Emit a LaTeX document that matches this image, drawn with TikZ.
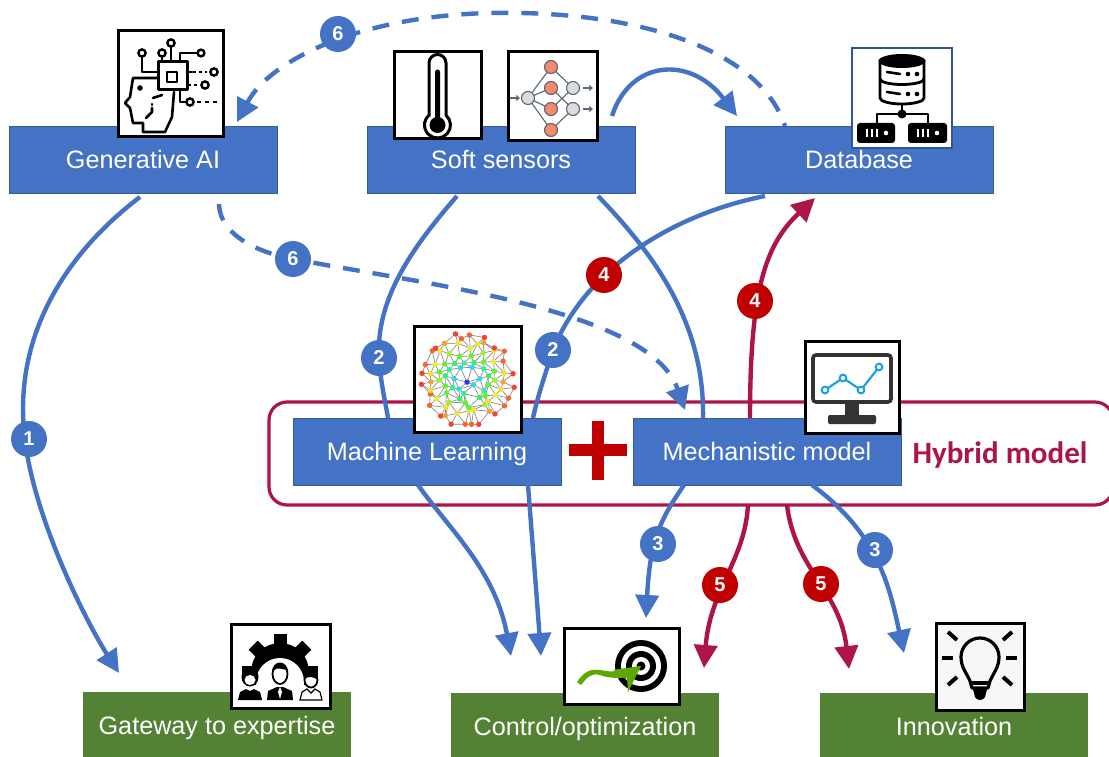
\documentclass[tikz,border=0pt]{standalone}
\usepackage{fontspec}
\setmainfont{Liberation Sans}
\newfontfamily\hybridfont{Carlito}
\usetikzlibrary{arrows.meta}
\definecolor{bluebox}{HTML}{4472C4}
\definecolor{greenbox}{HTML}{548235}
\definecolor{crimsonline}{HTML}{AD1547}
\definecolor{redbadge}{HTML}{C00000}
\definecolor{darkmon}{HTML}{333333}
\definecolor{chartblue}{HTML}{1CA0E0}
\definecolor{nnorange}{HTML}{F4896B}
\definecolor{nngray}{HTML}{DCDCDC}
\definecolor{nnline}{HTML}{5A6672}
\definecolor{arrowgreen}{HTML}{5AA800}
\definecolor{dbframe}{HTML}{2F5597}
\tikzset{
  boxbase/.style={minimum width=268pt,minimum height=67pt,inner sep=0pt,outer sep=0pt,text=white,text height=20pt,text depth=3pt,font=\fontsize{25.2}{27}\selectfont},
  bluenode/.style={boxbase,fill=bluebox,draw=bluebox!80!black,line width=.6pt},
  greennode/.style={boxbase,fill=greenbox},
  bluelink/.style={draw=bluebox,line width=4.4pt},
  redlink/.style={draw=crimsonline,line width=4.4pt},
  dashlink/.style={draw=bluebox,line width=4.4pt,dash pattern=on 17pt off 13pt},
  headb/.style={-{Triangle[length=23pt,width=23pt]}},
  badge/.style={circle,minimum size=36pt,inner sep=0pt,text=white,font=\fontsize{20}{21}\bfseries\selectfont},
  bluebadge/.style={badge,fill=bluebox},
  redbadgenode/.style={badge,fill=redbadge},
  iconbox/.style={draw=black,fill=white,line width=3pt,inner sep=0pt,outer sep=0pt},
  icoline/.style={draw=black,line width=2.6pt,line cap=round,line join=round},
  pin/.style={draw=black,fill=white,line width=2.4pt},
  declare function={
    nx(\i,\j)=467+9.8*\i+4.9*\j+3.2*sin(37*\i*\j+71*\i+29*\j);
    ny(\i,\j)=379+8.5*\j+3.2*cos(53*\i*\j+97*\i+211*\j);
    nd(\i,\j)=sqrt((9.8*\i+4.9*\j)^2+(8.5*\j)^2);
  }
}
\begin{document}
\begin{tikzpicture}[x=1pt,y=-1pt]
\useasboundingbox (0,0) rectangle (1109,757);
\clip (0,0) rectangle (1109,757);
\fill[white] (0,0) rectangle (1109,757);

% hybrid frame
\node (hybrid) [draw=crimsonline,line width=3.2pt,rounded corners=18pt,minimum width=844pt,minimum height=103pt,inner sep=0pt] at (691,453.5) {};

% boxes
\node (gen) [bluenode] at (143,159.5) {Generative AI};
\node (soft) [bluenode] at (501,159.5) {Soft sensors};
\node (db) [bluenode] at (859,159.5) {Database};
\node (ml) [bluenode] at (427,451.5) {Machine Learning};
\node (mech) [bluenode] at (767,451.5) {Mechanistic model};
\node (gate) [greennode] at (217,725.5) {Gateway to expertise};
\node (ctrl) [greennode] at (585,726.5) {Control/optimization};
\node (innov) [greennode] at (954,726.5) {Innovation};
\node (hybridlabel) [text=crimsonline,font=\hybridfont\fontsize{31}{33}\bfseries\selectfont,inner sep=0pt] at (1000,455) {Hybrid model};

% plus
\fill[redbadge] (569,444) rectangle (627,456);
\fill[redbadge] (592,421) rectangle (604,480);

% free ends
\coordinate (endGate) at (119,673);
\coordinate (endCtrlA) at (511,656);
\coordinate (endCtrlB) at (541,656);
\coordinate (endCtrlC) at (646,618);
\coordinate (endRedA) at (704,668);
\coordinate (endRedB) at (849,669);
\coordinate (endInnov) at (904,653);

% blue connectors
\draw[bluelink,headb] ([xshift=-3pt,yshift=-4pt]gen.south) .. controls (70,250) and (15,330) .. (24,430) .. controls (30,510) and (85,620) .. (endGate);
\draw[bluelink] ([xshift=-44pt,yshift=-3pt]soft.south) .. controls (410,250) and (376,300) .. (379,358) .. controls (381,385) and (385,400) .. ([xshift=-39pt,yshift=0pt]ml.north);
\draw[bluelink] ([xshift=97pt,yshift=-3pt]soft.south) .. controls (650,250) and (705,320) .. ([xshift=-64pt,yshift=0pt]mech.north);
\draw[bluelink] ([xshift=-94pt,yshift=-3pt]db.south) .. controls (670,215) and (585,270) .. (553,350) .. controls (545,375) and (538,395) .. ([xshift=106pt,yshift=0pt]ml.north);
\draw[bluelink,headb] ([xshift=111pt,yshift=10pt]soft.north) .. controls (630,60) and (690,55) .. ([xshift=-122pt,yshift=10pt]db.north);
\draw[bluelink,headb] ([xshift=-9pt]ml.south) .. controls (450,530) and (495,570) .. (endCtrlA);
\draw[bluelink,headb] ([xshift=101pt]ml.south) .. controls (533,550) and (537,600) .. (endCtrlB);
\draw[bluelink,headb] ([xshift=-83pt]mech.south) .. controls (660,520) and (650,540) .. (endCtrlC);
\draw[bluelink,headb] ([xshift=45pt]mech.south) .. controls (880,535) and (890,590) .. (endInnov);

% dashed connectors
\draw[dashlink,dash phase=14pt,headb] ([xshift=-74pt]db.north) .. controls (760,50) and (640,10) .. (490,13) .. controls (360,16) and (270,60) .. ([xshift=94pt,yshift=4pt]gen.north);
\draw[dashlink,headb] ([xshift=76pt,yshift=-11pt]gen.south) .. controls (220,240) and (270,255) .. (293,259) .. controls (430,285) and (650,310) .. ([xshift=-82pt,yshift=8pt]mech.north);

% crimson connectors
\draw[redlink,headb] ([xshift=-17pt]mech.north) .. controls (750,290) and (765,245) .. ([xshift=-44pt,yshift=-5pt]db.south);
\draw[redlink,headb] ([xshift=-19pt,yshift=-20pt]mech.south) .. controls (745,560) and (710,590) .. (endRedA);
\draw[redlink,headb] ([xshift=20pt,yshift=-20pt]mech.south) .. controls (795,570) and (840,590) .. (endRedB);

% badges
\node (b1) [bluebadge] at (29,439) {1};
\node (b2a) [bluebadge] at (379,358) {2};
\node (b2b) [bluebadge] at (553,350) {2};
\node (b3a) [bluebadge] at (658,544) {3};
\node (b3b) [bluebadge] at (875,550) {3};
\node (b4a) [redbadgenode] at (604,275) {4};
\node (b4b) [redbadgenode] at (755,301) {4};
\node (b5a) [redbadgenode] at (720,585) {5};
\node (b5b) [redbadgenode] at (821,584) {5};
\node (b6a) [bluebadge] at (338,34) {6};
\node (b6b) [bluebadge] at (293,259) {6};

% === ICON: generative AI ===
\node (iGen) [iconbox,minimum width=105pt,minimum height=106pt] at (171,84) {};
\draw[icoline,line width=3pt] (158,62) rectangle (187,90);
\draw[icoline,line width=2.8pt] (167,72) rectangle (177,82);
\draw[icoline] (158,78) -- (133,78) -- (130,97) -- (125,103) -- (130,108) -- (133,123) -- (143,123) -- (143,132) -- (165,132) -- (172,117) -- (174,92);
\fill (140,88) circle (2.8);
\draw[icoline] (153,98) -- (162,95);
\draw[icoline] (152,104) -- (152,105);
\draw[icoline] (152,108) -- (152,112) -- (146,118);
\draw[icoline] (142,57) -- (142,72) -- (158,72);
\draw[icoline] (162,57) -- (162,62);
\draw[icoline] (171,47) -- (171,62);
\draw[icoline] (180,62) -- (180,53) -- (198,53);
\draw[icoline] (188,72) -- (192,72);
\draw[icoline,dash pattern=on 3pt off 3pt,line cap=butt] (193,72) -- (207,72);
\draw[icoline,dash pattern=on 3pt off 3pt,line cap=butt] (188,85) -- (199,85);
\draw[icoline] (180,90) -- (180,102) -- (186,102);
\draw[icoline,dash pattern=on 4pt off 4pt,line cap=butt] (197,102) -- (218,102);
\draw[pin] (142,53) circle (3.6);
\draw[pin] (162,53) circle (3.6);
\draw[pin] (171,43) circle (3.6);
\draw[pin] (201,53) circle (3.4);
\draw[pin] (214,72) circle (3.6);
\draw[pin] (205,85) circle (3.6);
\draw[pin] (190,102) circle (3.6);

% === ICON: thermometer ===
\node (iTherm) [iconbox,minimum width=87pt,minimum height=87pt] at (437.5,95.5) {};
\draw[black,fill=white,line width=3pt] (429,115.2) -- (429,63) arc (180:360:8.5) -- (446,115.2) arc (-49:229:13) -- cycle;
\fill[black] (435,72) arc (180:360:2.5) -- (440,118) -- (435,118) -- cycle;
\fill[black] (437.5,125) circle (8);

% === ICON: neural net ===
\node (iNN) [iconbox,minimum width=89pt,minimum height=89pt] at (552.5,96.5) {};
\begin{scope}[draw=nnline,line width=1.1pt]
\draw (528,98) -- (551,67) -- (573,88);
\draw (528,98) -- (551,88) -- (573,109);
\draw (528,98) -- (551,109) -- (573,88);
\draw (528,98) -- (551,130) -- (573,109);
\draw[-{Straight Barb[length=3pt,width=5pt]}] (510,98) -- (520,98);
\draw[-{Straight Barb[length=3pt,width=5pt]}] (583,88) -- (593,88);
\draw[-{Straight Barb[length=3pt,width=5pt]}] (583,109) -- (593,109);
\draw[fill=nngray] (528,98) circle (6.5);
\draw[fill=nngray] (573,88) circle (6.5);
\draw[fill=nngray] (573,109) circle (6.5);
\foreach \yy in {67,88,109,130} \draw[fill=nnorange] (551,\yy) circle (6.5);
\end{scope}

% === ICON: database ===
\node (iDB) [draw=dbframe,fill=white,line width=1.4pt,inner sep=0pt,minimum width=100pt,minimum height=100pt] at (902,98) {};
\draw[black,fill=white,line width=2.8pt] (880,61) -- (880,98) arc (180:0:22 and 6) -- (924,61) -- cycle;
\fill[black] (902,61) ellipse (23.4 and 7);
\draw[black,line width=2.8pt] (880,79) arc (180:0:22 and 5.5);
\draw[icoline] (887,72) -- (900,74);
\draw[icoline] (887,92) -- (900,94);
\foreach \xx in {908,917} {\fill (\xx,74) circle (2.3); \fill (\xx,94) circle (2.3);}
\draw[icoline] (902,104) -- (902,114);
\draw[icoline] (877,123) -- (877,114) -- (928,114) -- (928,123);
\fill (902,114) circle (4.5);
\fill[rounded corners=3pt] (857,123) rectangle (895,143);
\fill[rounded corners=3pt] (908,123) rectangle (947,143);
\foreach \xo in {0,51} {
  \foreach \xx in {866,871,876} \fill[white] (\xx+\xo,129) rectangle (\xx+\xo+2.2,137);
  \fill[white] (886+\xo,133) circle (2.3);
}

% === ICON: network ===
\node (iNet) [iconbox,minimum width=107pt,minimum height=106pt] at (467.5,379) {};
\foreach \i in {-7,...,7} \foreach \j in {-7,...,7} {
  \pgfmathsetmacro\da{nd(\i,\j)}
  \ifdim\da pt<48pt
    \foreach \di/\dj in {1/0,0/1,1/-1} {
      \pgfmathsetmacro\db{nd(\i+\di,\j+\dj)}
      \ifdim\db pt<48pt
        \draw[black!50,line width=.6pt] ({nx(\i,\j)},{ny(\i,\j)}) -- ({nx(\i+\di,\j+\dj)},{ny(\i+\di,\j+\dj)});
      \fi
    }
  \fi
}
\foreach \i in {-7,...,7} \foreach \j in {-7,...,7} {
  \pgfmathsetmacro\da{nd(\i,\j)}
  \ifdim\da pt<48pt
    \pgfmathsetmacro\hh{max(0,min(240,240*(1-\da/46)))}
    \definecolor{ncol}{Hsb}{\hh,0.8,0.95}
    \fill[ncol] ({nx(\i,\j)},{ny(\i,\j)}) circle (2.7);
  \fi
}

% === ICON: monitor ===
\node (iMon) [iconbox,minimum width=94pt,minimum height=92pt] at (852,387) {};
\draw[darkmon,line width=3.6pt,rounded corners=3pt] (813,355) rectangle (891,402);
\fill[darkmon] (845,404) rectangle (859,416);
\fill[darkmon,rounded corners=2pt] (828,415) rectangle (876,424);
\draw[chartblue,line width=2.2pt] (825,390) -- (843,378) -- (861,390) -- (879,367);
\foreach \pp in {(825,390),(843,378),(861,390),(879,367)} \draw[chartblue,fill=white,line width=2pt] \pp circle (3.4);

% === ICON: gateway people ===
\node (iGate) [iconbox,minimum width=99pt,minimum height=84pt] at (280.5,666) {};
\begin{scope}
\clip (240,628) rectangle (322,684);
\fill (280,672) circle (29);
\foreach \a in {-90,-45,0,45,90,-135,135} \fill[rotate around={\a:(280,672)}] (273.5,634) rectangle (286.5,650);
\end{scope}
\fill[white] (280,682) circle (24);
\fill (267,700) -- (268,691) -- (277,687) -- (283,687) -- (292,691) -- (293,700) -- cycle;
\fill[white] (280,687) -- (278,692) -- (280,699) -- (282,692) -- cycle;
\draw[black,fill=white,line width=1.8pt] (280,674) ellipse (7.5 and 10);
\fill (272,672) arc (180:360:8 and 9.5) -- (288,670) .. controls (283,670) and (277,666) .. (273,671) -- cycle;
\fill (238,700) -- (240,692) -- (246,689) -- (250,691) -- (254,689) -- (260,692) -- (262,700) -- cycle;
\fill (250,677) ellipse (8.5 and 9.5);
\fill[white] (250,680) ellipse (5.5 and 5);
\draw[black,fill=white,line width=1.2pt] (300,700) -- (302,692) -- (307,689) -- (311,693) -- (315,689) -- (320,692) -- (322,700) -- cycle;
\draw[black,fill=white,line width=1.8pt] (311,680) ellipse (6.5 and 7.5);
\fill (304,680) arc (180:360:7 and 8) .. controls (314,677) and (308,675) .. (304,680) -- cycle;

% === ICON: target ===
\node (iTarget) [iconbox,minimum width=115pt,minimum height=76pt] at (621.5,666) {};
\fill (641,666) circle (26);
\fill[white] (641,666) circle (20);
\fill (641,666) circle (15);
\fill[white] (641,666) circle (9);
\fill (641,666) circle (4.5);
\fill[arrowgreen] (577,682) .. controls (585,670) and (592,669) .. (600,670) .. controls (606,671) and (610,672) .. (617,671) -- (612,670) -- (641,666) -- (628,692) -- (627,678) .. controls (615,678) and (608,678) .. (600,675) .. controls (592,673) and (588,676) .. (581,685) -- cycle;

% === ICON: bulb ===
\node (iBulb) [iconbox,fill=black!3,minimum width=88pt,minimum height=87pt] at (980,666.5) {};
\draw[black,line width=3.2pt,line join=round] (972,688) -- (970,681) .. controls (966,672) and (961,667) .. (961,657) arc (180:360:19) .. controls (999,667) and (994,672) .. (990,681) -- (988,688) -- cycle;
\draw[black,line width=3.2pt] (972,683) -- (988,683);
\fill (973,689) -- (987,689) -- (985,697) .. controls (983,701) and (977,701) .. (975,697) -- cycle;
\foreach \xa/\ya/\xb/\yb in {948/632/957/640,1003/640/1012/632,942/658/953/658,1006/658/1017/658,948/685/957/677,1003/677/1012/685}
  \draw[black,line width=4pt] (\xa,\ya) -- (\xb,\yb);
\end{tikzpicture}
\end{document}
